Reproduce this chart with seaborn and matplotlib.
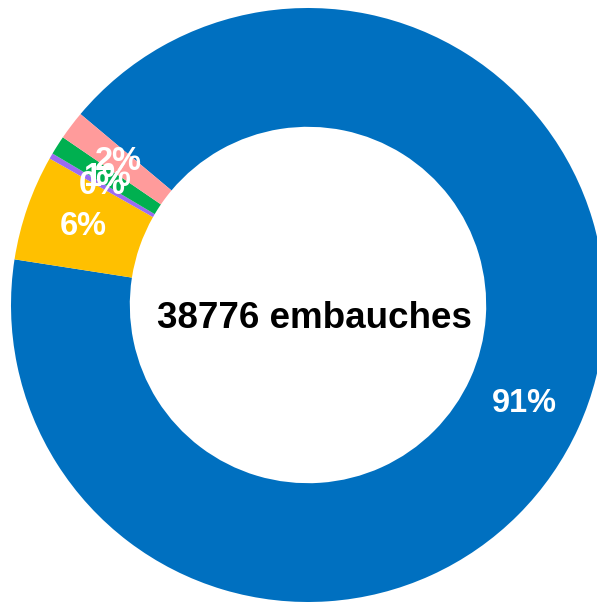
import matplotlib
matplotlib.use("Agg")
import matplotlib.pyplot as plt
import seaborn as sns

# hires by category (total 38776)
categories = ["A", "B", "C", "D", "E"]
counts = [35420, 2230, 120, 400, 606]
labels = ["91%", "6%", "0%", "1%", "2%"]
hex_colors = ["#0070C0", "#FFC000", "#9B6BF2", "#00B050", "#FF9B9B"]
total = 38776

sns.set_theme(style="white")
plt.rcParams["font.family"] = ["Liberation Sans", "DejaVu Sans"]
colors = sns.color_palette(hex_colors)

fig = plt.figure(figsize=(5.97, 6.02), dpi=100)
ax = fig.add_axes([0, 0, 1, 1])

R = 297.0
wedges, texts = ax.pie(
    counts, colors=colors, startangle=140, counterclock=False,
    radius=1.0, wedgeprops=dict(width=0.40, linewidth=0),
    labels=labels, labeldistance=0.80,
    textprops=dict(color="white", fontsize=23.5, fontweight="bold",
                   ha="center", va="center"),
)

ax.text(0.02, -0.045, f"{total} embauches", ha="center", va="center",
        fontsize=26.5, fontweight="bold", color="black")

ax.set_xlim(-308 / R, (597 - 308) / R)
ax.set_ylim(-297 / R, 305 / R)
ax.set_aspect("auto")
ax.axis("off")

fig.savefig("out.png", dpi=100)
